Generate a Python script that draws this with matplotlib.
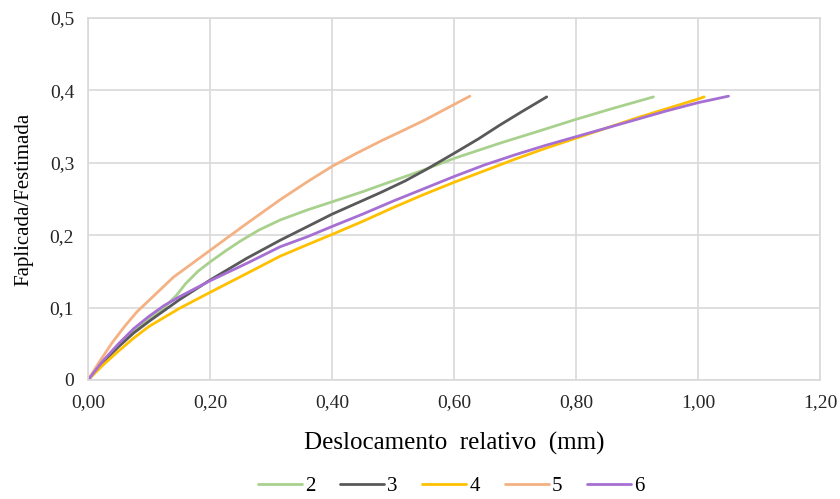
import matplotlib.pyplot as plt
import numpy as np

plt.rcParams['font.family'] = ['Liberation Serif', 'DejaVu Serif']

# readings (x = displacement mm, y = ratio)
x2 = [0.0, 0.025, 0.05, 0.075, 0.10, 0.126, 0.145, 0.16, 0.18, 0.20, 0.225, 0.25, 0.28, 0.315, 0.36, 0.40,
      0.45, 0.50, 0.55, 0.60, 0.675, 0.74, 0.80, 0.86, 0.927]
y2 = [0.0, 0.025, 0.047, 0.067, 0.085, 0.101, 0.117, 0.133, 0.150, 0.163, 0.178, 0.192, 0.207, 0.221, 0.235, 0.246,
      0.260, 0.275, 0.290, 0.306, 0.327, 0.344, 0.360, 0.375, 0.391]

x3 = [0.0, 0.025, 0.05, 0.075, 0.10, 0.15, 0.20, 0.26, 0.315, 0.36, 0.40, 0.44, 0.48, 0.52, 0.555, 0.60,
      0.64, 0.675, 0.71, 0.752]
y3 = [0.0, 0.025, 0.046, 0.065, 0.081, 0.111, 0.138, 0.168, 0.193, 0.212, 0.229, 0.244, 0.259, 0.275, 0.291, 0.313,
      0.333, 0.352, 0.370, 0.391]

x4 = [0.0, 0.025, 0.05, 0.075, 0.10, 0.15, 0.20, 0.26, 0.315, 0.36, 0.40, 0.45, 0.50, 0.55, 0.60, 0.65,
      0.70, 0.75, 0.80, 0.85, 0.90, 0.95, 1.0, 1.01]
y4 = [0.0, 0.021, 0.040, 0.058, 0.074, 0.099, 0.121, 0.147, 0.171, 0.187, 0.201, 0.219, 0.238, 0.256, 0.273, 0.289,
      0.305, 0.320, 0.334, 0.348, 0.362, 0.375, 0.388, 0.391]

x5 = [0.0, 0.02, 0.04, 0.06, 0.08, 0.10, 0.14, 0.20, 0.26, 0.315, 0.36, 0.40, 0.44, 0.48, 0.52, 0.552, 0.59, 0.626]
y5 = [0.0, 0.027, 0.052, 0.074, 0.094, 0.110, 0.142, 0.179, 0.216, 0.249, 0.274, 0.295, 0.313, 0.330, 0.346, 0.359,
      0.376, 0.392]

x6 = [0.0, 0.025, 0.05, 0.075, 0.10, 0.125, 0.15, 0.20, 0.26, 0.315, 0.36, 0.40, 0.45, 0.50, 0.55, 0.60, 0.65,
      0.70, 0.75, 0.80, 0.85, 0.90, 0.95, 1.0, 1.05]
y6 = [0.0, 0.027, 0.050, 0.071, 0.088, 0.103, 0.115, 0.137, 0.161, 0.184, 0.198, 0.212, 0.229, 0.247, 0.264, 0.281,
      0.297, 0.311, 0.324, 0.336, 0.348, 0.360, 0.372, 0.383, 0.392]

series = ['2', '3', '4', '5', '6']
colors = ['#A9D18E', '#595959', '#FFC000', '#F4B183', '#A66FD4']

fig = plt.figure(figsize=(8.4, 4.99), dpi=100)
ax = fig.add_axes([0.1048, 0.2385, 0.8714, 0.7255])

for xs, ys, lab, c in zip([x2, x3, x4, x5, x6], [y2, y3, y4, y5, y6], series, colors):
    ax.plot(xs, ys, color=c, lw=2.0, label=lab, solid_capstyle='round', solid_joinstyle='round')

ax.set_xlim(0, 1.2)
ax.set_ylim(0, 0.5)
xt = np.arange(0, 1.21, 0.2)
yt = np.arange(0, 0.51, 0.1)
ax.set_xticks(xt)
ax.set_yticks(yt)
ax.set_xticklabels([f"{v:.2f}".replace('.', ',') for v in xt])
ax.set_yticklabels(['0'] + [f"{v:.1f}".replace('.', ',') for v in yt[1:]])
ax.tick_params(length=0, labelsize=14, colors='#262626', pad=10)
ax.grid(True, color='#D9D9D9', lw=1.2)
ax.set_axisbelow(True)
for s in ax.spines.values():
    s.set_color('#D9D9D9')
    s.set_linewidth(1.2)

ax.set_xlabel("Deslocamento  relativo  (mm)", fontsize=18, labelpad=15)
ax.set_ylabel("Faplicada/Festimada", fontsize=15, labelpad=12)

fig.legend(loc='center', bbox_to_anchor=(0.537, 0.026), ncol=5, frameon=False,
           fontsize=15, handlelength=2.1, handletextpad=0.15, columnspacing=1.2,
           borderaxespad=0, borderpad=0)

fig.savefig('out.png', dpi=100)
